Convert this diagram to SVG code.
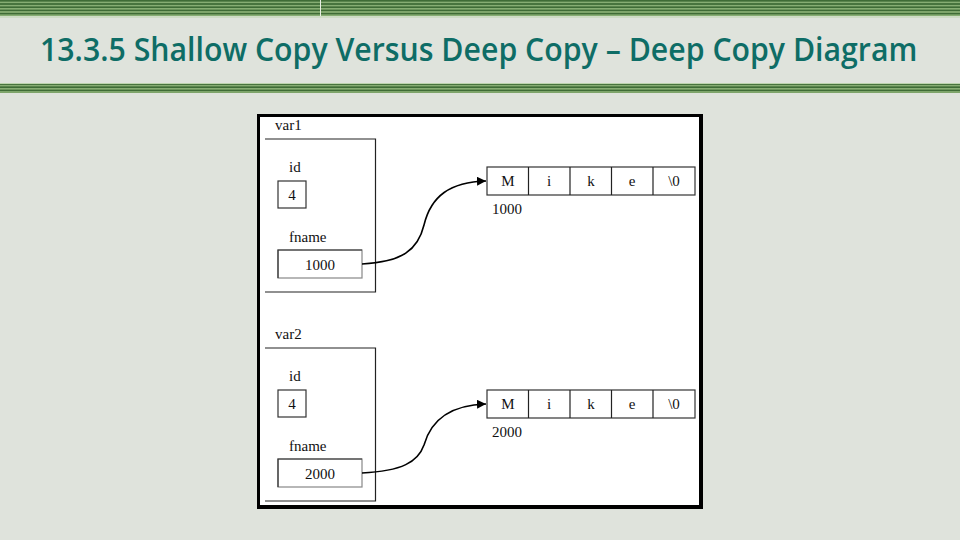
<svg xmlns="http://www.w3.org/2000/svg" width="960" height="540" viewBox="0 0 960 540">
  <defs>
    <marker id="arrow" viewBox="0 0 10 10" refX="10" refY="5" markerWidth="9" markerHeight="9" markerUnits="userSpaceOnUse" orient="auto">
      <path d="M0,0 L10,5 L0,10 Z" fill="#000"/>
    </marker>
    <pattern id="stripes" width="4" height="3.2" patternUnits="userSpaceOnUse">
      <rect width="4" height="3.2" fill="#3f6c36"/>
      <rect y="1.8" width="4" height="1.2" fill="#9fc287"/>
    </pattern>
  </defs>
  <style>
    .t { font-family: "Liberation Serif", "Times New Roman", serif; font-size: 15px; fill: #111; }
    .c { text-anchor: middle; }
    .ln { stroke: #222; stroke-width: 1.2; fill: none; }
    .cell { fill: #fff; stroke: #333; stroke-width: 1.2; }
    .conn { stroke: #000; stroke-width: 1.6; fill: none; }
  </style>

  <!-- background -->
  <rect width="960" height="540" fill="#dfe3dc"/>
  <rect x="0" y="0" width="960" height="16" fill="url(#stripes)"/>
  <rect x="0" y="16" width="960" height="2" fill="#cfdcc6"/>
  <rect x="0" y="84" width="960" height="9" fill="url(#stripes)"/>
  <rect x="0" y="83" width="960" height="1" fill="#bcd3ad"/>
  <line x1="320.5" y1="0" x2="320.5" y2="16" stroke="#e8efe3" stroke-width="1"/>

  <!-- title -->
  <text transform="translate(40,61) scale(0.88,1)" x="0" y="0" font-family="'Open Sans', 'Noto Sans', sans-serif" font-size="33" font-weight="600" fill="#0e6d66" textLength="997" lengthAdjust="spacingAndGlyphs">13.3.5 Shallow Copy Versus Deep Copy – Deep Copy Diagram</text>

  <!-- frame -->
  <g id="frame">
    <rect x="257" y="114" width="446" height="395" fill="#000"/>
    <rect x="260" y="117" width="439" height="388" fill="#fff"/>
  </g>

  <!-- var1 -->
  <g id="var1">
    <text class="t" x="275" y="130">var1</text>
    <path class="ln" d="M265,139 H375.5 V292 H265"/>
    <text class="t" x="289" y="172">id</text>
    <rect class="cell" x="278" y="181" width="28" height="27"/>
    <text class="t c" x="292" y="200">4</text>
    <text class="t" x="289" y="242">fname</text>
    <rect x="278" y="250" width="84" height="28" fill="#fff" stroke="#888" stroke-width="1.2"/>
    <path d="M278,278 V250 H362" stroke="#333" stroke-width="1.2" fill="none"/>
    <text class="t c" x="320" y="270">1000</text>
  </g>

  <!-- array 1 -->
  <g id="array1">
    <rect class="cell" x="487" y="167" width="208" height="28"/>
    <path class="ln" d="M528.5,167 V195 M570,167 V195 M611.5,167 V195 M653,167 V195"/>
    <text class="t c" x="508" y="186">M</text>
    <text class="t c" x="549" y="186">i</text>
    <text class="t c" x="591" y="186">k</text>
    <text class="t c" x="632" y="186">e</text>
    <text class="t c" x="674" y="186">\0</text>
    <text class="t" x="492" y="214">1000</text>
  </g>

  <!-- var2 -->
  <g id="var2">
    <text class="t" x="275" y="339">var2</text>
    <path class="ln" d="M265,348 H375.5 V501 H265"/>
    <text class="t" x="289" y="381">id</text>
    <rect class="cell" x="278" y="390" width="28" height="27"/>
    <text class="t c" x="292" y="409">4</text>
    <text class="t" x="289" y="451">fname</text>
    <rect x="278" y="459" width="84" height="28" fill="#fff" stroke="#888" stroke-width="1.2"/>
    <path d="M278,487 V459 H362" stroke="#333" stroke-width="1.2" fill="none"/>
    <text class="t c" x="320" y="479">2000</text>
  </g>

  <!-- array 2 -->
  <g id="array2">
    <rect class="cell" x="487" y="390" width="208" height="28"/>
    <path class="ln" d="M528.5,390 V418 M570,390 V418 M611.5,390 V418 M653,390 V418"/>
    <text class="t c" x="508" y="409">M</text>
    <text class="t c" x="549" y="409">i</text>
    <text class="t c" x="591" y="409">k</text>
    <text class="t c" x="632" y="409">e</text>
    <text class="t c" x="674" y="409">\0</text>
    <text class="t" x="492" y="437">2000</text>
  </g>

  <!-- connectors -->
  <g id="connectors">
    <path class="conn" marker-end="url(#arrow)" d="M362,264 C402,262 418,250 424,225 C431,196 450,182 486,181"/>
    <path class="conn" marker-end="url(#arrow)" d="M362,473 C402,471 418,462 424,445 C431,420 450,405 486,404"/>
  </g>
</svg>
